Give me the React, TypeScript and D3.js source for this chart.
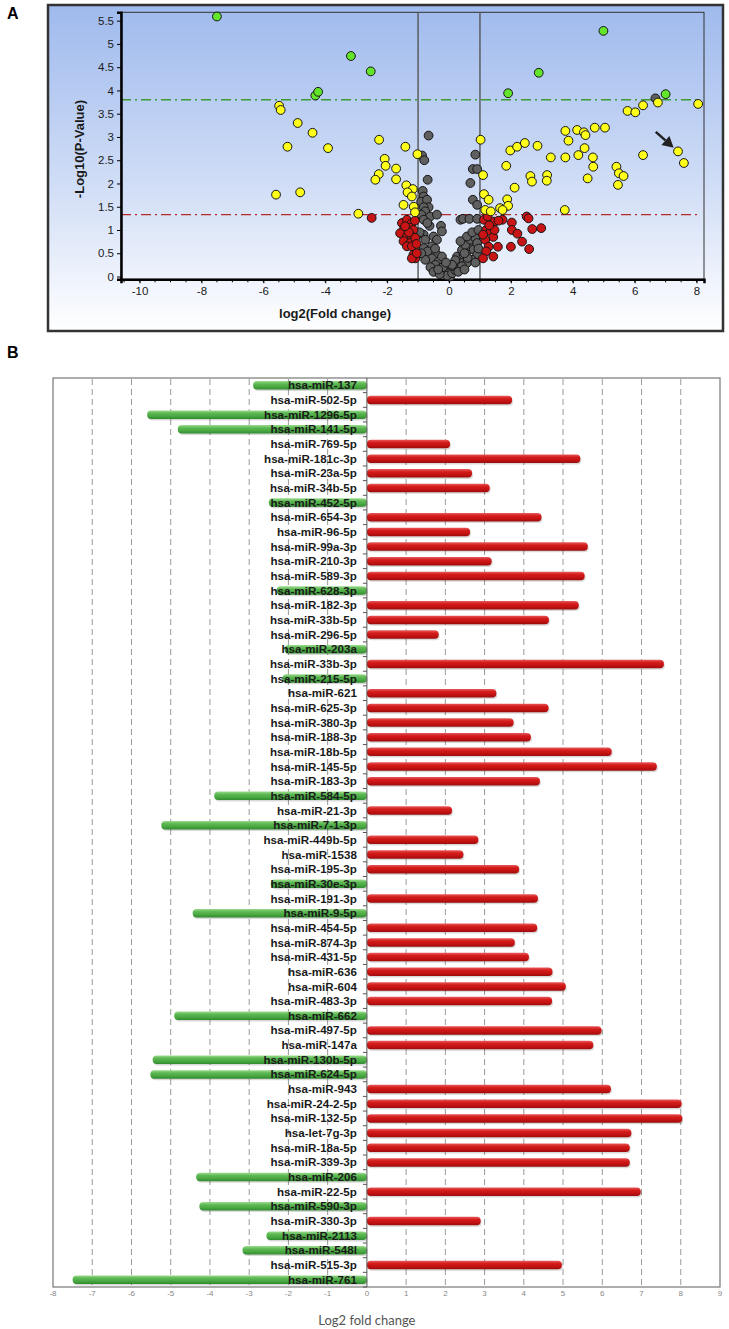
import { useEffect, useRef } from "react";
import * as d3 from "d3";

// ===================== PANEL A : volcano plot =====================
// each point is [log2 fold change, -log10 p-value]
const greenPoints: [number, number][] = [
  [-7.5, 5.59], [-3.17, 4.74], [-2.53, 4.41], [-4.32, 3.89], [-4.23, 3.97],
  [4.99, 5.28], [2.9, 4.38], [1.91, 3.94], [7.0, 3.92],
];

const yellowPoints: [number, number][] = [
  [-5.49, 3.67], [-5.44, 3.58], [-4.89, 3.3], [-4.41, 3.09], [-5.22, 2.79], [-3.91, 2.76],
  [-5.59, 1.76], [-4.81, 1.81], [-2.93, 1.35], [-2.26, 2.94], [-1.41, 2.79], [-1.02, 2.63],
  [-2.08, 2.53], [-2.05, 2.38], [-1.71, 2.32], [-2.27, 2.2], [-2.38, 2.08], [-1.71, 2.09],
  [-1.38, 1.96], [-1.17, 1.88], [-1.34, 1.81], [-1.2, 1.72], [-1.47, 1.54], [-1.14, 1.5],
  [-1.1, 1.38],
  [1.02, 2.94], [1.1, 2.18], [1.13, 1.77], [1.28, 1.65], [1.17, 1.43], [1.35, 1.4],
  [1.65, 1.47], [1.88, 1.66], [1.91, 1.52], [1.73, 1.43], [1.85, 2.38], [1.98, 2.71],
  [2.2, 2.79], [2.45, 2.87], [2.12, 1.91], [2.63, 2.16], [2.68, 2.04], [2.86, 2.81],
  [3.17, 2.18], [3.16, 2.06], [3.29, 2.56], [3.76, 3.13], [3.86, 2.92], [3.76, 2.56],
  [4.14, 3.15], [4.36, 3.1], [4.41, 3.04], [4.38, 2.76], [4.18, 2.61], [4.65, 2.56],
  [4.66, 2.36], [4.48, 2.11], [4.71, 3.2], [5.04, 3.2], [3.74, 1.43], [5.41, 2.36],
  [5.49, 2.22], [5.64, 2.16], [5.46, 1.97], [5.77, 3.56], [6.02, 3.53], [6.27, 3.68],
  [6.27, 2.61], [6.75, 3.74], [7.4, 2.69], [7.59, 2.44], [8.05, 3.71],
];

const redPoints: [number, number][] = [
  [-2.5, 1.26],
  [-1.52, 1.15], [-1.36, 1.22], [-1.2, 1.15], [-1.47, 1.0], [-1.25, 1.05], [-1.15, 1.0],
  [-1.58, 0.93], [-1.36, 0.86], [-1.2, 0.86], [-1.47, 0.76], [-1.25, 0.72], [-1.09, 0.83],
  [-1.36, 0.65], [-1.2, 0.65], [-1.15, 0.47], [-1.09, 0.39], [-1.2, 0.39], [-1.04, 0.5],
  [-1.3, 0.95], [-1.42, 1.08], [-1.1, 1.2], [-1.05, 0.7],
  [1.13, 1.22], [1.25, 1.29], [1.47, 1.18], [1.73, 1.22], [2.03, 1.16], [1.2, 1.0],
  [1.35, 0.97], [1.43, 0.85], [1.17, 0.79], [1.28, 0.64], [1.58, 0.64], [1.2, 0.54],
  [1.43, 0.43], [1.1, 0.39], [2.03, 1.0], [2.0, 0.64], [2.21, 0.92], [2.36, 0.75],
  [2.59, 0.59], [2.51, 1.29], [2.57, 1.25], [2.69, 1.02], [2.98, 1.04], [1.47, 1.0],
  [1.6, 1.2], [1.1, 0.9], [1.3, 1.1],
];

const grayPoints: [number, number][] = [
  [-0.66, 3.03], [-0.87, 2.6], [-0.8, 2.5], [-0.69, 2.08], [-0.85, 1.84], [-0.82, 1.72],
  [-0.9, 1.61], [-0.71, 1.65], [-0.66, 1.49], [-0.82, 1.49], [-0.77, 1.4], [-0.9, 1.33],
  [-0.61, 1.29], [-0.39, 1.33], [-0.82, 1.22], [-0.63, 1.09], [-0.26, 1.09], [-0.23, 0.97],
  [-0.82, 0.9], [-0.5, 0.86], [-0.77, 0.79], [-0.39, 0.79], [-0.55, 0.65], [-0.82, 0.61],
  [-0.69, 0.54], [-0.39, 0.47], [-0.55, 0.39], [-0.77, 0.36], [-0.34, 0.32], [-0.23, 0.43],
  [-0.44, 0.25], [-0.17, 0.22], [-0.28, 0.14], [-0.12, 0.11], [-0.01, 0.07], [0.04, 0.0],
  [-0.06, 0.02], [0.1, 0.07], [0.2, 0.14], [0.15, 0.22], [0.28, 0.29], [0.37, 0.37],
  [0.26, 0.43], [0.47, 0.47], [0.42, 0.57], [0.58, 0.54], [0.69, 0.65], [0.53, 0.68],
  [0.37, 0.76], [0.69, 0.79], [0.85, 0.83], [0.58, 0.86], [0.8, 0.58], [0.91, 0.47],
  [0.74, 0.36], [0.58, 0.29], [0.42, 0.22], [0.91, 0.72], [0.37, 1.22], [0.45, 1.24],
  [0.66, 1.24], [0.91, 1.24], [0.69, 2.01], [0.77, 2.31], [0.91, 2.31], [0.85, 2.62],
  [0.77, 1.65], [0.91, 1.54], [-0.9, 0.5], [-0.6, 0.2], [-0.5, 0.1], [-0.3, 0.05],
  [-0.2, 0.2], [0.3, 0.1], [0.5, 0.15], [0.6, 0.4], [0.85, 0.3], [0.95, 0.6],
  [-0.95, 0.95], [-0.45, 0.6], [0.2, 0.35], [0.1, 0.25], [-0.1, 0.3], [0.75, 0.95],
  [0.5, 0.5], [0.95, 1.0], [-0.7, 1.15], [-0.35, 0.15], [6.67, 3.83],
];

const foldCutoffs = [-1, 1];
const strictLine = 3.8; // green dash-dot
const pLine = 1.33; // red dash-dot
const volcanoXTicks = [-10, -8, -6, -4, -2, 0, 2, 4, 6, 8];
const volcanoYTicks = [0, 0.5, 1, 1.5, 2, 2.5, 3, 3.5, 4, 4.5, 5, 5.5];
const arrowFrom: [number, number] = [6.68, 3.11];
const arrowTo: [number, number] = [7.26, 2.77];

// ===================== PANEL B : fold change bars =====================
const mirNames = [
  "hsa-miR-137", "hsa-miR-502-5p", "hsa-miR-1296-5p", "hsa-miR-141-5p", "hsa-miR-769-5p",
  "hsa-miR-181c-3p", "hsa-miR-23a-5p", "hsa-miR-34b-5p", "hsa-miR-452-5p", "hsa-miR-654-3p",
  "hsa-miR-96-5p", "hsa-miR-99a-3p", "hsa-miR-210-3p", "hsa-miR-589-3p", "hsa-miR-628-3p",
  "hsa-miR-182-3p", "hsa-miR-33b-5p", "hsa-miR-296-5p", "hsa-miR-203a", "hsa-miR-33b-3p",
  "hsa-miR-215-5p", "hsa-miR-621", "hsa-miR-625-3p", "hsa-miR-380-3p", "hsa-miR-188-3p",
  "hsa-miR-18b-5p", "hsa-miR-145-5p", "hsa-miR-183-3p", "hsa-miR-584-5p", "hsa-miR-21-3p",
  "hsa-miR-7-1-3p", "hsa-miR-449b-5p", "hsa-miR-1538", "hsa-miR-195-3p", "hsa-miR-30e-3p",
  "hsa-miR-191-3p", "hsa-miR-9-5p", "hsa-miR-454-5p", "hsa-miR-874-3p", "hsa-miR-431-5p",
  "hsa-miR-636", "hsa-miR-604", "hsa-miR-483-3p", "hsa-miR-662", "hsa-miR-497-5p",
  "hsa-miR-147a", "hsa-miR-130b-5p", "hsa-miR-624-5p", "hsa-miR-943", "hsa-miR-24-2-5p",
  "hsa-miR-132-5p", "hsa-let-7g-3p", "hsa-miR-18a-5p", "hsa-miR-339-3p", "hsa-miR-206",
  "hsa-miR-22-5p", "hsa-miR-590-3p", "hsa-miR-330-3p", "hsa-miR-2113", "hsa-miR-548l",
  "hsa-miR-515-3p", "hsa-miR-761",
];
const log2FoldChange = [
  -2.9, 3.7, -5.6, -4.82, 2.12,
  5.44, 2.68, 3.13, -2.5, 4.45,
  2.63, 5.63, 3.18, 5.55, -2.3,
  5.4, 4.64, 1.83, -2.1, 7.57,
  -2.15, 3.3, 4.63, 3.74, 4.18,
  6.24, 7.39, 4.41, -3.89, 2.17,
  -5.24, 2.84, 2.46, 3.88, -2.45,
  4.36, -4.44, 4.34, 3.77, 4.13,
  4.73, 5.07, 4.72, -4.91, 5.98,
  5.77, -5.46, -5.52, 6.22, 8.02,
  8.04, 6.74, 6.7, 6.7, -4.35,
  6.98, -4.27, 2.9, -2.56, -3.17,
  4.97, -7.5,
];
const barTicks = [-8, -7, -6, -5, -4, -3, -2, -1, 0, 1, 2, 3, 4, 5, 6, 7, 8, 9];

const axisFont = "'Liberation Sans Narrow', 'Arial Narrow', 'Liberation Sans', Arial, sans-serif";

const App = () => {
  const svgRef = useRef<SVGSVGElement | null>(null);

  useEffect(() => {
    const svg = d3.select(svgRef.current);
    svg.selectAll("*").remove();
    const defs = svg.append("defs");

    // ---------- gradients ----------
    const bg = defs.append("linearGradient").attr("id", "bgA")
      .attr("x1", 0).attr("y1", 0).attr("x2", 0).attr("y2", 1);
    bg.append("stop").attr("offset", "0%").attr("stop-color", "#9fbaed");
    bg.append("stop").attr("offset", "55%").attr("stop-color", "#d0ddf6");
    bg.append("stop").attr("offset", "100%").attr("stop-color", "#ffffff");

    const mkBarGrad = (id: string, stops: string[]) => {
      const g = defs.append("linearGradient").attr("id", id)
        .attr("x1", 0).attr("y1", 0).attr("x2", 0).attr("y2", 1);
      stops.forEach((c, i) => g.append("stop")
        .attr("offset", `${(i / (stops.length - 1)) * 100}%`).attr("stop-color", c));
    };
    mkBarGrad("redBar", ["#e85a5a", "#d41c1c", "#c41212", "#9c0c0c"]);
    mkBarGrad("greenBar", ["#9adb8c", "#5cb853", "#4aa843", "#2f8a2d"]);

    //===================== PANEL A =====================
    const xA = d3.scaleLinear().domain([-10.6, 8.24]).range([121, 704]);
    const yA = d3.scaleLinear().domain([-0.06, 5.68]).range([279.3, 12.3]);
    const gA = svg.append("g");

    gA.append("text").attr("x", 7).attr("y", 19).text("A")
      .attr("font-family", "'Liberation Sans', Arial, sans-serif")
      .attr("font-weight", "bold").attr("font-size", 16);

    gA.append("rect").attr("x", 48).attr("y", 5).attr("width", 675).attr("height", 326)
      .attr("fill", "url(#bgA)").attr("stroke", "#333").attr("stroke-width", 2.5);

    gA.append("rect").attr("x", xA(-10.6)).attr("y", yA(5.68))
      .attr("width", xA(8.24) - xA(-10.6)).attr("height", yA(-0.06) - yA(5.68))
      .attr("fill", "none").attr("stroke", "#333").attr("stroke-width", 1);

    // fold change cut-offs
    gA.selectAll(".fc").data(foldCutoffs).join("line")
      .attr("x1", d => xA(d)).attr("x2", d => xA(d))
      .attr("y1", yA(5.68)).attr("y2", yA(-0.06))
      .attr("stroke", "#555").attr("stroke-width", 1.4);

    // significance lines
    [[strictLine, "#3d9a33"], [pLine, "#b52a2a"]].forEach(([v, c]) => {
      gA.append("line").attr("x1", xA(-10.6)).attr("x2", xA(8.1))
        .attr("y1", yA(v as number)).attr("y2", yA(v as number))
        .attr("stroke", c as string).attr("stroke-width", 1.3)
        .attr("stroke-dasharray", "10,4,2,4");
    });

    // axes
    const yAxis = gA.append("g").attr("transform", `translate(${xA(-10.6)},0)`)
      .call(d3.axisLeft(yA).tickValues(volcanoYTicks).tickSize(4).tickPadding(3)
        .tickFormat(d => String(d)));
    const xAxis = gA.append("g").attr("transform", `translate(0,${yA(-0.06)})`)
      .call(d3.axisBottom(xA).tickValues(volcanoXTicks).tickSize(4).tickPadding(4)
        .tickFormat(d => String(d)));
    [yAxis, xAxis].forEach(ax => {
      ax.select(".domain").attr("stroke", "#000").attr("stroke-width", 2.5);
      ax.selectAll("text").attr("font-family", axisFont).attr("font-size", 11.5)
        .attr("fill", "#1a1a1a");
    });
    // minor ticks every 0.5 on x
    gA.selectAll(".minor").data(d3.range(-10.5, 8.01, 0.5)).join("line")
      .attr("x1", d => xA(d)).attr("x2", d => xA(d))
      .attr("y1", yA(-0.06)).attr("y2", yA(-0.06) + 3)
      .attr("stroke", "#000").attr("stroke-width", 1);

    gA.append("text").attr("x", 335).attr("y", 318).attr("text-anchor", "middle")
      .attr("font-family", axisFont).attr("font-weight", "bold").attr("font-size", 13)
      .attr("fill", "#1a1a1a").text("log2(Fold change)");
    gA.append("text").attr("transform", "translate(84,149) rotate(-90)")
      .attr("text-anchor", "middle").attr("font-family", axisFont)
      .attr("font-weight", "bold").attr("font-size", 13).attr("fill", "#1a1a1a")
      .text("-Log10(P-Value)");

    // points
    const drawPts = (pts: [number, number][], fill: string) => {
      gA.append("g").selectAll("circle").data(pts).join("circle")
        .attr("cx", d => xA(d[0])).attr("cy", d => yA(d[1])).attr("r", 4.4)
        .attr("fill", fill).attr("stroke", "#151515").attr("stroke-width", 1);
    };
    drawPts(grayPoints, "#5f5f5f");
    drawPts(redPoints, "#c81414");
    drawPts(yellowPoints, "#ffff1a");
    drawPts(greenPoints, "#63e52c");

    // arrow
    const ax0 = xA(arrowFrom[0]), ay0 = yA(arrowFrom[1]);
    const ax1 = xA(arrowTo[0]), ay1 = yA(arrowTo[1]);
    const ang = Math.atan2(ay1 - ay0, ax1 - ax0);
    const hl = 11, hw = 6;
    const bx = ax1 - hl * Math.cos(ang), by = ay1 - hl * Math.sin(ang);
    gA.append("line").attr("x1", ax0).attr("y1", ay0).attr("x2", bx).attr("y2", by)
      .attr("stroke", "#222").attr("stroke-width", 2.5);
    gA.append("path").attr("d",
      `M${ax1},${ay1} L${bx + hw * Math.sin(ang)},${by - hw * Math.cos(ang)} ` +
      `L${bx - hw * Math.sin(ang)},${by + hw * Math.cos(ang)} Z`)
      .attr("fill", "#222");

    //===================== PANEL B =====================
    const xB = d3.scaleLinear().domain([-8, 9]).range([53, 720]);
    const yB = d3.scaleBand<string>().domain(mirNames).range([378, 1287]).padding(0);
    const gB = svg.append("g");
    const bh = 8.5;

    gB.append("text").attr("x", 7).attr("y", 358).text("B")
      .attr("font-family", "'Liberation Sans', Arial, sans-serif")
      .attr("font-weight", "bold").attr("font-size", 16);

    gB.append("rect").attr("x", xB(-8)).attr("y", 378).attr("width", xB(9) - xB(-8))
      .attr("height", 909).attr("fill", "#fff").attr("stroke", "#777").attr("stroke-width", 1.2);

    gB.selectAll(".grid").data(barTicks.filter(t => t !== -8 && t !== 9 && t !== 0)).join("line")
      .attr("x1", d => xB(d)).attr("x2", d => xB(d)).attr("y1", 379).attr("y2", 1286)
      .attr("stroke", "#9a9a9a").attr("stroke-width", 1).attr("stroke-dasharray", "6,4");

    const x0 = xB(0);
    const rows = mirNames.map((n, i) => ({ name: n, v: log2FoldChange[i] }));

    // shadows
    gB.append("g").selectAll("rect").data(rows).join("rect")
      .attr("x", d => Math.min(x0, xB(d.v)) + 1)
      .attr("y", d => (yB(d.name) as number) + (yB.bandwidth() - bh) / 2 + 1.5)
      .attr("width", d => Math.abs(xB(d.v) - x0)).attr("height", bh)
      .attr("rx", 4).attr("fill", "#000").attr("opacity", 0.15);
    gB.append("g").selectAll("rect").data(rows).join("rect")
      .attr("x", d => Math.min(x0, xB(d.v)))
      .attr("y", d => (yB(d.name) as number) + (yB.bandwidth() - bh) / 2)
      .attr("width", d => Math.abs(xB(d.v) - x0)).attr("height", bh)
      .attr("rx", 4).attr("fill", d => d.v > 0 ? "url(#redBar)" : "url(#greenBar)");

    gB.append("line").attr("x1", x0).attr("x2", x0).attr("y1", 378).attr("y2", 1287)
      .attr("stroke", "#555").attr("stroke-width", 1);
    // small ticks on the zero axis at band edges
    gB.selectAll(".bt").data(mirNames).join("line")
      .attr("x1", x0 - 4).attr("x2", x0)
      .attr("y1", d => (yB(d) as number) + yB.bandwidth())
      .attr("y2", d => (yB(d) as number) + yB.bandwidth())
      .attr("stroke", "#555").attr("stroke-width", 1);

    gB.append("g").selectAll("text").data(rows).join("text")
      .attr("x", x0 - 10).attr("y", d => (yB(d.name) as number) + yB.bandwidth() / 2)
      .attr("dy", "0.35em").attr("text-anchor", "end")
      .attr("font-family", axisFont).attr("font-weight", "bold").attr("font-size", 11.6)
      .attr("fill", "#1a1a1a").text(d => d.name);

    gB.append("g").selectAll("text").data(barTicks).join("text")
      .attr("x", d => xB(d)).attr("y", 1296).attr("text-anchor", "middle")
      .attr("font-family", axisFont).attr("font-size", 8).attr("fill", "#888")
      .text(d => String(d));

    gB.append("text").attr("x", x0).attr("y", 1325).attr("text-anchor", "middle")
      .attr("font-family", "Lato, 'Open Sans', sans-serif").attr("font-size", 13)
      .attr("fill", "#555").text("Log2 fold change");
  }, []);

  return (
    <div style={{ position: "absolute", left: 0, top: 0 }}>
      <svg ref={svgRef} width={729} height={1329} style={{ display: "block" }} />
    </div>
  );
};

export default App;
